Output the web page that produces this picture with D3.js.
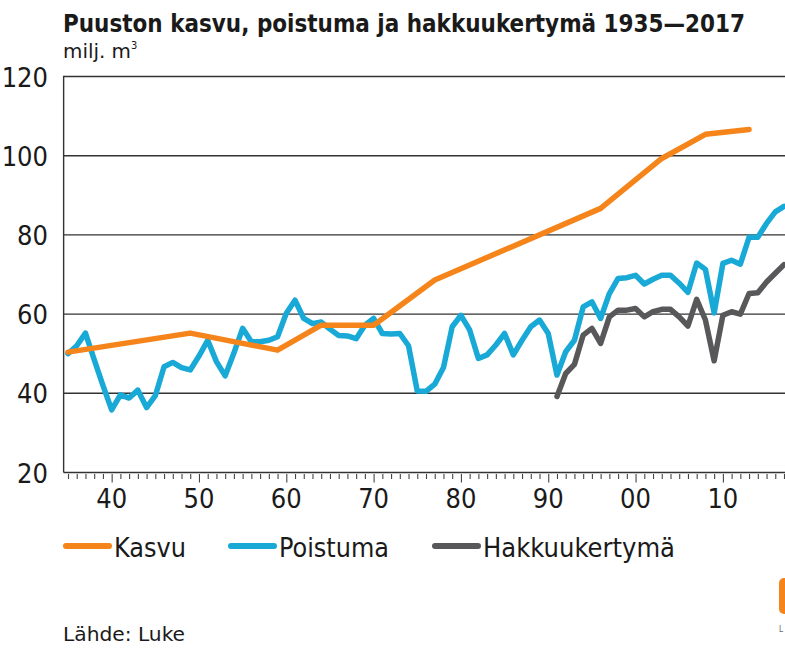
<!DOCTYPE html>
<html>
<head>
<meta charset="utf-8">
<script src="https://cdn.jsdelivr.net/npm/d3@7"></script>
<style>
  html, body { margin: 0; padding: 0; background: #fff; }
  svg { display: block; }
  text { font-family: 'DejaVu Sans Condensed', 'Liberation Sans Narrow', sans-serif; font-stretch: condensed; fill: #1a1a1a; }
</style>
</head>
<body>
<svg id="chart" width="785" height="648"></svg>
<script>
// ── Data ─────────────────────────────────────────────
const kasvuYears  = [1935, 1949, 1959, 1964, 1970, 1977, 1996, 2003, 2008, 2013];
const kasvuValues = [50.4, 55.2, 50.9, 57.2, 57.2, 68.6, 86.7, 99.3, 105.4, 106.6];

const poistumaStart = 1935;
const poistumaValues = [
  50, 52, 55.2, 48.5, 42, 35.8, 39.6, 38.8, 40.8, 36.4,      // 1935–1944
  39.4, 46.7, 47.8, 46.5, 45.9, 49.4, 53.4, 48, 44.4, 50.2,  // 1945–1954
  56.4, 53, 53, 53.4, 54.3, 60.2, 63.5, 58.9, 57.6, 58,      // 1955–1964
  56.2, 54.6, 54.5, 53.8, 57.2, 58.9, 55.1, 55, 55.1, 52,    // 1965–1974
  40.6, 40.5, 42.3, 46.5, 56.8, 59.7, 56, 48.8, 49.7, 52.2,  // 1975–1984
  55.1, 49.7, 53.4, 56.8, 58.5, 55.1, 44.6, 50.5, 53.4, 61.8,// 1985–1994
  63.1, 58.9, 65.2, 69, 69.2, 69.8, 67.6, 68.8, 69.8, 69.8,  // 1995–2004
  67.8, 65.5, 72.9, 71.3, 60.3, 72.8, 73.6, 72.6, 79.4, 79.4,// 2005–2014
  82.9, 85.8, 87.2                                            // 2015–2017
];

const hakkuuStart = 1991;
const hakkuuValues = [
  39.2, 45, 47.3, 54.7, 56.4, 52.6, 59.3, 61, 61,            // 1991–1999
  61.4, 59.3, 60.6, 61.2, 61.2, 59.3, 57, 63.7, 58.5, 48.2,  // 2000–2009
  59.7, 60.6, 60, 65.2, 65.4, 68.1, 70.3, 72.5               // 2010–2017
];

const yTicks = [20, 40, 60, 80, 100, 120];
const xMajor = [1940, 1950, 1960, 1970, 1980, 1990, 2000, 2010];
const xMajorLabels = ['40', '50', '60', '70', '80', '90', '00', '10'];

const series = [
  { name: 'Kasvu',         color: '#f5841a' },
  { name: 'Poistuma',      color: '#19a9d7' },
  { name: 'Hakkuukertymä', color: '#58585a' }
];

// ── Setup ─────────────────────────────────────────────
const svg = d3.select('#chart');

const x = d3.scaleLinear().domain([1935, 2017]).range([68, 784]);
const y = d3.scaleLinear().domain([20, 120]).range([472.5, 76.5]);
const xLeft = x(1934.5);

// Title
svg.append('text')
  .attr('x', 63).attr('y', 32)
  .attr('font-size', 25).attr('font-weight', 700)
  .attr('textLength', 682).attr('lengthAdjust', 'spacingAndGlyphs')
  .text('Puuston kasvu, poistuma ja hakkuukertymä 1935—2017');

const sub = svg.append('text')
  .attr('x', 63).attr('y', 58)
  .attr('font-size', 20);
sub.append('tspan').attr('textLength', 68).attr('lengthAdjust', 'spacingAndGlyphs').text('milj. m');
sub.append('tspan').attr('font-size', 11).attr('dy', -9).text('3');

// Gridlines
svg.append('g')
  .selectAll('line')
  .data(yTicks.filter(d => d > 20))
  .join('line')
  .attr('x1', xLeft).attr('x2', 785)
  .attr('y1', d => y(d)).attr('y2', d => y(d))
  .attr('stroke', '#333').attr('stroke-width', 1.4);

// Left axis line
svg.append('line')
  .attr('x1', xLeft).attr('x2', xLeft)
  .attr('y1', y(120) - 0.7).attr('y2', y(20))
  .attr('stroke', '#333').attr('stroke-width', 1.4);

// Y labels
svg.append('g')
  .selectAll('text')
  .data(yTicks)
  .join('text')
  .attr('x', 48).attr('y', d => y(d) + 10)
  .attr('text-anchor', 'end')
  .attr('font-size', 27)
  .text(d => d);

// X axis (bottom)
const xAxis = d3.axisBottom(x)
  .tickValues(d3.range(1935, 2018))
  .tickSize(6)
  .tickFormat('');
const gx = svg.append('g')
  .attr('transform', `translate(0,${y(20)})`)
  .call(xAxis);
gx.select('.domain').remove();
gx.selectAll('.tick line')
  .attr('stroke', '#444').attr('stroke-width', 1.1)
  .attr('y1', 1.5)
  .attr('y2', d => d % 10 === 0 ? 10 : 6.5);
svg.append('line')
  .attr('x1', xLeft).attr('x2', 785)
  .attr('y1', y(20)).attr('y2', y(20))
  .attr('stroke', '#333').attr('stroke-width', 1.4);

svg.append('g')
  .selectAll('text')
  .data(xMajor)
  .join('text')
  .attr('x', d => x(d)).attr('y', 508)
  .attr('text-anchor', 'middle')
  .attr('font-size', 27)
  .text((d, i) => xMajorLabels[i]);

// ── Lines ─────────────────────────────────────────────
const line = d3.line().x(d => x(d[0])).y(d => y(d[1]));

const poistuma = poistumaValues.map((v, i) => [poistumaStart + i, v]);
const hakkuu   = hakkuuValues.map((v, i) => [hakkuuStart + i, v]);
const kasvu    = kasvuYears.map((yr, i) => [yr, kasvuValues[i]]);

const plot = svg.append('g');
[[poistuma, series[1].color], [hakkuu, series[2].color], [kasvu, series[0].color]]
  .forEach(([data, color]) => {
    plot.append('path')
      .datum(data)
      .attr('d', line)
      .attr('fill', 'none')
      .attr('stroke', color)
      .attr('stroke-width', 5.5)
      .attr('stroke-linejoin', 'round')
      .attr('stroke-linecap', 'round');
  });

// ── Legend ────────────────────────────────────────────
const legendX = [63, 228, 432];
const legendW = [72, 110, 192];
const lg = svg.append('g').selectAll('g')
  .data(series)
  .join('g')
  .attr('transform', (d, i) => `translate(${legendX[i]},546)`);
lg.append('line')
  .attr('x1', 3).attr('x2', 46)
  .attr('stroke', d => d.color)
  .attr('stroke-width', 6)
  .attr('stroke-linecap', 'round');
lg.append('text')
  .attr('x', 51).attr('y', 11)
  .attr('font-size', 27)
  .attr('textLength', (d, i) => legendW[i]).attr('lengthAdjust', 'spacingAndGlyphs')
  .text(d => d.name);

// Source
svg.append('text')
  .attr('x', 63).attr('y', 641)
  .attr('font-size', 20)
  .attr('textLength', 122).attr('lengthAdjust', 'spacingAndGlyphs')
  .text('Lähde: Luke');

// Logo fragment at right edge
svg.append('rect')
  .attr('x', 779).attr('y', 578)
  .attr('width', 20).attr('height', 36)
  .attr('rx', 5)
  .attr('fill', '#f5841a');
svg.append('text')
  .attr('x', 779).attr('y', 632)
  .attr('font-size', 8)
  .style('fill', '#666')
  .text('L');
</script>
</body>
</html>
